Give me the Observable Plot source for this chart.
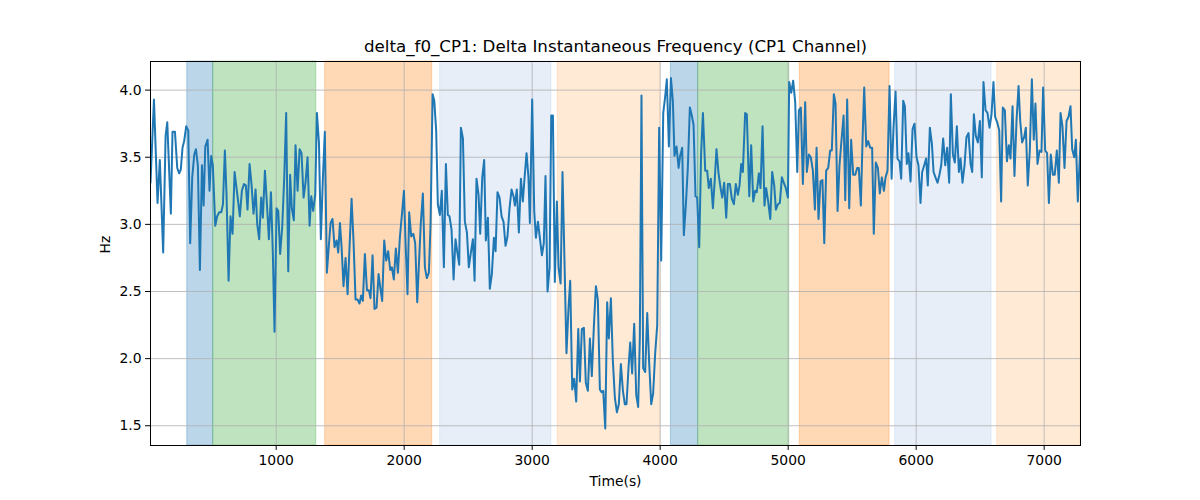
<!DOCTYPE html>
<html>
<head>
<meta charset="utf-8">
<script src="https://cdn.jsdelivr.net/npm/d3@7"></script>
<script src="https://cdn.jsdelivr.net/npm/@observablehq/plot@0.6"></script>
<style>
  body { margin: 0; background: white; }
  #chart svg { display: block; }
</style>
</head>
<body>
<div id="chart"></div>
<script>
// sample times (s) and delta f0 values (Hz)
const times = [
  18, 45, 73, 91, 117, 136, 149, 177, 190, 209, 227, 242, 255, 268, 281, 297, 313, 328, 344, 360,
  373, 388, 404, 420, 433, 446, 464, 479, 492, 505, 524, 539, 555, 571, 584, 599, 612, 628, 643, 659,
  675, 690, 703, 716, 732, 748, 763, 776, 792, 807, 823, 839, 852, 867, 883, 896, 912, 927, 943, 959,
  974, 987, 1003, 1016, 1031, 1047, 1063, 1078, 1094, 1109, 1122, 1138, 1151, 1167, 1183, 1198, 1214, 1229, 1245, 1261,
  1274, 1289, 1305, 1318, 1334, 1349, 1365, 1380, 1396, 1412, 1425, 1440, 1456, 1472, 1485, 1498,
  1511, 1526, 1542, 1558, 1573, 1589, 1604, 1620, 1636, 1651, 1664, 1677, 1693, 1709, 1724, 1737, 1753, 1768, 1784, 1800,
  1813, 1828, 1844, 1860, 1875, 1891, 1904, 1919, 1935, 1951, 1966, 1982, 1998, 2011, 2026, 2039, 2055, 2071, 2086, 2102,
  2115, 2130, 2146, 2162, 2177, 2193, 2206, 2222, 2235, 2250, 2263, 2279, 2294, 2310, 2326, 2341, 2354, 2370, 2386, 2401,
  2414, 2430, 2443, 2459, 2474, 2490, 2505, 2521, 2537, 2550, 2565, 2581, 2594, 2610, 2625, 2638, 2654, 2669, 2685, 2701,
  2714, 2729, 2745, 2761, 2776, 2792, 2807, 2823, 2839, 2854, 2865, 2880, 2896, 2912, 2927, 2940, 2956, 2971, 2982,
  3000, 3016, 3029, 3045, 3060, 3076, 3091, 3104, 3120, 3136, 3149, 3162, 3177, 3193, 3206, 3222, 3237, 3253, 3268, 3284,
  3297, 3313, 3328, 3344, 3360, 3373, 3388, 3404, 3419, 3435, 3451, 3466, 3482, 3498, 3513, 3529, 3542, 3555, 3571, 3586,
  3599, 3615, 3630, 3646, 3662, 3677, 3693, 3709, 3724, 3737, 3753, 3766, 3781, 3797, 3813, 3828, 3841, 3854, 3867, 3883,
  3899, 3914, 3930, 3945, 3961, 3977, 3992, 4008, 4024, 4039, 4052, 4068, 4084, 4099, 4112, 4128, 4144, 4156, 4172, 4185,
  4201, 4216, 4232, 4245, 4261, 4276, 4289, 4305, 4320, 4334, 4352, 4367, 4380, 4396, 4412, 4425, 4440, 4456,
  4472, 4485, 4500, 4516, 4529, 4545, 4560, 4576, 4591, 4607, 4620, 4633, 4646, 4664, 4677, 4696, 4711, 4727, 4742, 4755,
  4771, 4784, 4800, 4815, 4828, 4844, 4860, 4875, 4891, 4904, 4920, 4935, 4951, 4966, 4982, 4998, 5008, 5024, 5039, 5055,
  5071, 5084, 5099, 5115, 5133, 5146, 5162, 5177, 5193, 5209, 5222, 5237, 5253, 5268, 5282, 5297, 5313, 5328, 5341, 5357,
  5370, 5386, 5401, 5417, 5433, 5446, 5461, 5477, 5492, 5508, 5524, 5539, 5552, 5568, 5581, 5594, 5610, 5625, 5641, 5656,
  5669, 5685, 5701, 5716, 5732, 5748, 5761, 5776, 5792, 5808, 5823, 5839, 5854, 5870, 5883, 5899, 5912, 5927, 5940,
  5956, 5972, 5987, 6003, 6018, 6034, 6047, 6063, 6078, 6091, 6107, 6123, 6136, 6151, 6167, 6182, 6196, 6211, 6227, 6242,
  6258, 6271, 6287, 6302, 6318, 6334, 6347, 6362, 6378, 6393, 6409, 6425, 6438, 6451, 6466, 6482, 6498, 6513, 6526, 6542,
  6557, 6573, 6589, 6604, 6617, 6633, 6649, 6664, 6677, 6693, 6709, 6724, 6737, 6753, 6768, 6784, 6800, 6813, 6828, 6844,
  6857, 6872, 6888, 6904, 6919, 6932, 6948, 6964, 6979, 6992, 7008, 7023, 7037, 7052, 7068, 7083, 7099, 7115, 7128, 7143,
  7159, 7175, 7190, 7206, 7219, 7235, 7248, 7263, 7284
];
const hz = [
  3.31, 3.93, 3.16, 3.48, 2.79, 3.66, 3.76, 3.08, 3.69, 3.69, 3.42, 3.38, 3.41, 3.57, 3.62, 3.73, 3.70, 2.86, 3.35, 3.52,
  3.56, 3.44, 2.66, 3.44, 3.14, 3.58, 3.63, 3.25, 3.51, 3.44, 2.99, 3.06, 3.09, 3.09, 3.15, 3.55, 3.22, 2.58, 3.06, 2.93,
  3.39, 3.27, 3.17, 3.06, 3.25, 3.30, 3.29, 3.11, 3.45, 3.30, 3.08, 3.26, 3.00, 2.89, 3.20, 3.05, 3.40, 3.16, 2.89, 3.24,
  2.78, 2.20, 3.12, 3.10, 2.78, 2.98, 3.35, 3.83, 2.65, 3.37, 3.12, 3.03, 3.59, 3.25, 3.56, 3.53, 3.20, 3.31, 3.50, 2.99,
  3.21, 3.10, 3.22, 3.83, 3.61, 2.89, 3.35, 3.69, 2.64, 2.85, 3.01, 3.04, 2.83, 2.88, 2.79, 3.01,
  2.83, 2.54, 2.75, 2.48, 2.83, 3.19, 2.88, 2.44, 2.44, 2.41, 2.47, 2.43, 2.78, 2.51, 2.51, 2.45, 2.77, 2.37, 2.38, 2.63,
  2.53, 2.43, 2.88, 2.73, 2.80, 2.66, 2.68, 2.59, 2.82, 2.64, 2.90, 3.07, 3.25, 2.86, 2.48, 3.09, 2.91, 2.93, 2.86, 2.42,
  2.70, 3.01, 3.23, 2.68, 2.60, 2.64, 3.00, 3.97, 3.92, 3.70, 3.15, 3.07, 3.25, 2.68, 3.45, 3.07, 3.06, 2.96, 2.59, 2.89,
  2.80, 2.70, 3.72, 3.64, 3.02, 2.94, 2.68, 2.79, 2.89, 2.58, 3.34, 3.22, 2.93, 3.35, 3.48, 2.88, 3.05, 2.52, 2.63, 2.90,
  2.80, 3.24, 3.20, 3.06, 3.02, 2.84, 2.91, 3.12, 3.26, 3.21, 3.14, 3.26, 2.94, 3.34, 3.17, 3.34, 3.53, 3.35, 3.01,
  3.93, 3.10, 2.90, 3.02, 2.90, 2.77, 2.86, 3.36, 2.50, 2.68, 3.81, 3.81, 2.57, 3.17, 2.68, 2.56, 3.39, 2.70, 2.04, 2.38,
  2.58, 1.77, 1.85, 1.68, 2.22, 1.83, 2.22, 2.23, 1.82, 1.76, 2.15, 1.87, 2.24, 2.54, 2.44, 1.77, 1.75, 1.76, 1.48, 2.42,
  2.15, 2.45, 1.99, 1.71, 1.60, 1.66, 1.96, 1.76, 1.66, 1.66, 1.94, 2.12, 1.89, 2.26, 1.73, 1.64, 2.15, 3.96, 1.93, 1.90,
  2.34, 1.97, 1.66, 1.74, 2.04, 2.25, 3.72, 2.73, 3.83, 3.95, 4.08, 3.58, 4.09, 3.92, 3.51, 3.58, 3.42, 3.51, 3.57, 2.92,
  3.15, 3.42, 3.87, 3.82, 3.74, 3.21, 3.20, 2.83, 3.53, 3.83, 3.40, 3.40, 3.27, 3.34, 3.12, 3.31, 3.56, 3.38,
  3.27, 3.20, 3.31, 3.05, 3.30, 3.30, 3.19, 3.15, 3.30, 3.22, 3.29, 3.45, 3.39, 3.83, 3.82, 3.21, 3.59, 3.17, 3.25, 3.24,
  3.38, 3.27, 3.73, 3.14, 3.27, 3.17, 3.04, 3.39, 3.29, 3.11, 3.15, 3.16, 3.35, 3.31, 3.27, 3.20, 4.06, 3.98, 4.07, 3.91,
  3.39, 3.85, 3.87, 3.30, 3.91, 3.39, 3.52, 3.50, 3.40, 3.11, 3.57, 3.04, 3.32, 3.33, 2.86, 3.40, 3.42, 3.55, 3.55, 3.97,
  3.90, 3.10, 3.44, 3.63, 3.81, 3.18, 3.93, 3.12, 3.63, 3.37, 3.37, 3.42, 3.42, 3.14, 3.62, 4.02, 3.58, 3.62, 3.57, 3.57,
  2.93, 3.46, 3.42, 3.23, 3.35, 3.25, 3.35, 3.40, 4.03, 3.34, 3.72, 3.99, 3.49, 3.47, 3.34, 3.92, 3.88, 3.45, 3.53,
  3.32, 3.71, 3.75, 3.50, 3.44, 3.16, 3.39, 3.44, 3.49, 3.29, 3.72, 3.60, 3.39, 3.35, 3.31, 3.37, 3.44, 3.64, 3.44, 3.57,
  3.31, 3.97, 3.52, 3.46, 3.73, 3.39, 3.49, 3.31, 3.44, 3.65, 3.68, 3.45, 3.39, 3.82, 3.66, 3.61, 3.77, 3.35, 4.06, 3.85,
  3.83, 3.72, 3.82, 4.06, 3.80, 3.76, 3.70, 3.17, 3.87, 3.85, 3.47, 3.59, 3.49, 3.88, 3.36, 3.77, 4.03, 3.77, 3.61, 3.65,
  3.72, 3.29, 3.55, 4.08, 3.63, 3.90, 3.45, 3.55, 3.54, 4.02, 3.55, 3.53, 3.16, 3.52, 3.37, 3.37, 3.55, 3.31, 3.83, 3.73,
  3.42, 3.77, 3.80, 3.88, 3.56, 3.50, 3.63, 3.17, 3.61
];

// shaded segments
const bandStart = [305, 508, 1383, 2281, 3200, 4084, 4297, 5091, 5836, 6633];
const bandEnd   = [508, 1313, 2219, 3150, 4000, 4297, 5008, 5792, 6589, 7284];
const bandKind  = ["a", "b", "c", "d", "e", "a", "b", "c", "d", "e"];

const xTicks = [1000, 2000, 3000, 4000, 5000, 6000, 7000];
const yTicks = [1.5, 2.0, 2.5, 3.0, 3.5, 4.0];

const titleText = "delta_f0_CP1: Delta Instantaneous Frequency (CP1 Channel)";

const rows = times.map((t, i) => ({t, hz: hz[i]}));
const bands = bandStart.map((s, i) => ({start: s, end: bandEnd[i], kind: bandKind[i]}));

const chart = Plot.plot({
  width: 1200,
  height: 500,
  marginLeft: 150,
  marginRight: 120,
  marginTop: 61,
  marginBottom: 55,
  style: {fontFamily: '"DejaVu Sans", sans-serif', fontSize: "13.9px", color: "black", background: "white"},
  x: {domain: [18, 7284]},
  y: {domain: [1.353, 4.213]},
  color: {
    domain: ["a", "b", "c", "d", "e"],
    range: ["#1f77b4", "#2ca02c", "#ff7f0e", "#aec7e8", "#ffbb78"]
  },
  marks: [
    Plot.rect(bands, {x1: "start", x2: "end", fill: "kind", fillOpacity: 0.3, stroke: "kind", strokeOpacity: 0.3, strokeWidth: 1}),
    Plot.gridX(xTicks, {stroke: "#b0b0b0", strokeOpacity: 1, strokeWidth: 0.8}),
    Plot.gridY(yTicks, {stroke: "#b0b0b0", strokeOpacity: 1, strokeWidth: 0.8}),
    Plot.line(rows, {x: "t", y: "hz", stroke: "#1f77b4", strokeWidth: 2, clip: true}),
    Plot.frame({stroke: "black", strokeWidth: 1}),
    Plot.axisX(xTicks, {tickSize: 4.9, tickPadding: 5, tickFormat: d3.format("d"), label: null}),
    Plot.axisY(yTicks, {tickSize: 4.9, tickPadding: 4, tickFormat: d3.format(".1f"), label: null}),
    Plot.text([titleText], {frameAnchor: "top", lineAnchor: "middle", dy: -15, fontSize: 16.7}),
    Plot.text(["Time(s)"], {frameAnchor: "bottom", lineAnchor: "middle", dy: 36}),
    Plot.text(["Hz"], {frameAnchor: "left", dx: -45, rotate: -90})
  ]
});

document.getElementById("chart").append(chart);
</script>
</body>
</html>
